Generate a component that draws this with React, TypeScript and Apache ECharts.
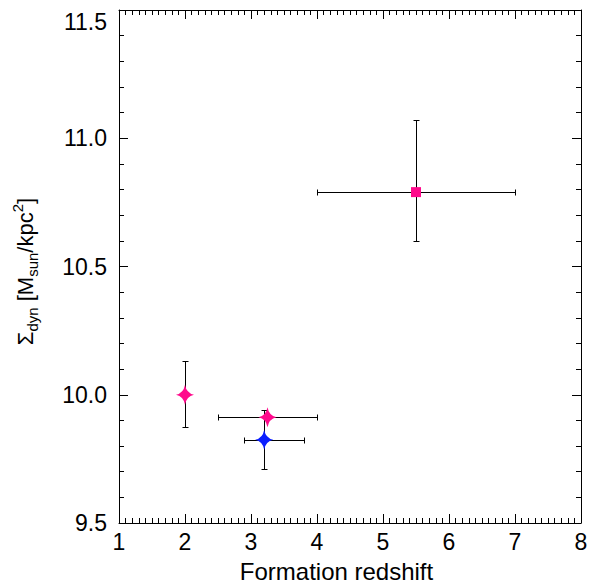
import React, { useEffect, useRef } from "react";
import * as echarts from "echarts";

const redshift = [2.0, 3.25, 3.2, 5.5];
const sigma = [10.0, 9.912, 9.825, 10.79];
const redshiftLo: (number | null)[] = [null, 2.5, 2.9, 4.0];
const redshiftHi: (number | null)[] = [null, 4.0, 3.8, 7.0];
const sigmaLo: (number | null)[] = [9.875, null, 9.71, 10.6];
const sigmaHi: (number | null)[] = [10.13, null, 9.94, 11.07];
const markerShape = ["star", "star", "star", "square"];
const markerColor = ["#ff0a8c", "#ff0a8c", "#0a1eff", "#ff0a8c"];

const STAR = "path://M0,-10 Q1.6,-1.6 10,0 Q1.6,1.6 0,10 Q-1.6,1.6 -10,0 Q-1.6,-1.6 0,-10 Z";
const FONT = "Liberation Sans";

export default function App() {
  const ref = useRef<HTMLDivElement>(null);
  useEffect(() => {
    const chart = echarts.init(ref.current!, null, { renderer: "svg" });
    const errData = redshift.map((x, i) => [x, sigma[i], redshiftLo[i] ?? NaN, redshiftHi[i] ?? NaN, sigmaLo[i] ?? NaN, sigmaHi[i] ?? NaN]);
    const cap = 3;
    const px = (v: number) => Math.round(v) + 0.5;
    const lineStyle = { stroke: "#000", lineWidth: 1 };
    const axisCommon = {
      axisLine: { show: true, onZero: false, lineStyle: { color: "#000", width: 1 } },
      splitLine: { show: false },
    };
    chart.setOption({
      animation: false,
      backgroundColor: "#fff",
      grid: { left: 119, right: 16, top: 10, bottom: 61, show: false, containLabel: false, outerBoundsMode: "none" },
      xAxis: [
        {
          type: "value", min: 1, max: 8, interval: 1, position: "bottom",
          ...axisCommon,
          axisTick: { show: true, inside: true, length: 9, lineStyle: { color: "#000" } },
          minorTick: { show: true, splitNumber: 10, length: 5, lineStyle: { color: "#000" } },
          axisLabel: { fontSize: 23, color: "#000", fontFamily: FONT, margin: 7 },
          name: "Formation redshift", nameLocation: "middle", nameGap: 36,
          nameTextStyle: { fontSize: 24, color: "#000", fontFamily: FONT, padding: [0, 27, 0, 0] },
        },
        {
          type: "value", min: 1, max: 8, interval: 1, position: "top",
          ...axisCommon,
          axisTick: { show: true, inside: true, length: 9, lineStyle: { color: "#000" } },
          minorTick: { show: true, splitNumber: 10, length: 5, lineStyle: { color: "#000" } },
          axisLabel: { show: false },
        },
      ],
      yAxis: [
        {
          type: "value", min: 9.5, max: 11.5, interval: 0.5, position: "left",
          ...axisCommon,
          axisTick: { show: true, inside: true, length: 9, lineStyle: { color: "#000" } },
          minorTick: { show: true, splitNumber: 5, length: 5, lineStyle: { color: "#000" } },
          axisLabel: {
            fontSize: 23, color: "#000", fontFamily: FONT, margin: 12,
            formatter: (v: number) => v.toFixed(1),
            verticalAlignMaxLabel: "top",
          },
          name: "{m|Σ}{sub|dyn}{m| [M}{sub|sun}{m|/kpc}{sup|2}{m|]}",
          nameLocation: "middle", nameRotate: 90, nameGap: 79,
          nameTextStyle: {
            fontFamily: FONT, color: "#000", padding: [0, 10, 0, 0],
            rich: {
              m: { fontSize: 22, fontFamily: FONT, color: "#000", lineHeight: 30, verticalAlign: "middle" },
              sub: { fontSize: 15, fontFamily: FONT, color: "#000", lineHeight: 30, verticalAlign: "bottom" },
              sup: { fontSize: 15, fontFamily: FONT, color: "#000", lineHeight: 30, verticalAlign: "top" },
            },
          },
        },
        {
          type: "value", min: 9.5, max: 11.5, interval: 0.5, position: "right",
          ...axisCommon,
          axisTick: { show: true, inside: true, length: 9, lineStyle: { color: "#000" } },
          minorTick: { show: true, splitNumber: 5, length: 5, lineStyle: { color: "#000" } },
          axisLabel: { show: false },
        },
      ],
      series: [
        {
          type: "custom",
          xAxisIndex: 0, yAxisIndex: 0,
          data: errData,
          renderItem: (params: any, api: any) => {
            const x = api.value(0), y = api.value(1);
            const xl = api.value(2), xh = api.value(3), yl = api.value(4), yh = api.value(5);
            const children: any[] = [];
            const ln = (x1: number, y1: number, x2: number, y2: number) =>
              children.push({ type: "line", shape: { x1: px(x1), y1: px(y1), x2: px(x2), y2: px(y2) }, style: lineStyle });
            if (!isNaN(xl) && !isNaN(xh)) {
              const a = api.coord([xl, y]), b = api.coord([xh, y]);
              ln(a[0], a[1], b[0], b[1]);
              ln(a[0], a[1] - cap, a[0], a[1] + cap);
              ln(b[0], b[1] - cap, b[0], b[1] + cap);
            }
            if (!isNaN(yl) && !isNaN(yh)) {
              const a = api.coord([x, yl]), b = api.coord([x, yh]);
              ln(a[0], a[1], b[0], b[1]);
              ln(a[0] - cap, a[1], a[0] + cap, a[1]);
              ln(b[0] - cap, b[1], b[0] + cap, b[1]);
            }
            return { type: "group", children };
          },
          z: 1,
        },
        {
          type: "scatter",
          xAxisIndex: 0, yAxisIndex: 0,
          z: 2,
          data: redshift.map((x, i) => ({
            value: [x, sigma[i]],
            symbol: markerShape[i] === "star" ? STAR : "rect",
            symbolSize: markerShape[i] === "star" ? [18, 20] : [10, 10],
            itemStyle: { color: markerColor[i], opacity: 1 },
          })),
        },
      ],
    });
    return () => chart.dispose();
  }, []);
  return <div ref={ref} style={{ width: 597, height: 584, position: "absolute", left: 0, top: 0 }} />;
}
